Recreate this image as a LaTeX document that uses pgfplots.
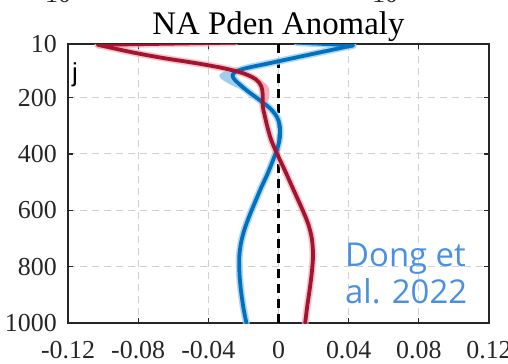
\documentclass[border=0pt]{standalone}
\usepackage{fontspec}
\setmainfont{Liberation Serif}
\newfontfamily\labelsans{Liberation Sans}
\newfontfamily\notefont{Open Sans}
\usepackage{pgfplots}
\usepackage{pgfplotstable}
\pgfplotsset{compat=1.18}

\definecolor{pblue}{RGB}{0,114,189}
\definecolor{pred}{RGB}{162,20,47}
\definecolor{hblue}{RGB}{160,205,240}
\definecolor{hred}{RGB}{244,172,182}
\definecolor{dongblue}{RGB}{74,144,226}
\definecolor{gridgray}{RGB}{208,208,208}
\definecolor{axgray}{RGB}{38,38,38}

% density anomaly profiles (anomaly, depth in m)
\pgfplotstableread{
x d
-0.0248 5
-0.1029 13
}\redtop
\pgfplotstableread{
x d
-0.1029 13
-0.0830 40
-0.0655 60
-0.0470 78
-0.0320 95
-0.0205 113
-0.0130 135
-0.0098 160
-0.0090 190
-0.0090 230
-0.0080 260
-0.0065 300
-0.0042 350
-0.0008 400
0.0030 450
0.0066 500
0.0102 550
0.0138 600
0.0170 650
0.0190 700
0.0197 760
0.0190 820
0.0178 880
0.0164 940
0.0152 1000
}\redprof
\pgfplotstableread{
x d
0.0105 5
0.0425 15
}\bluetop
\pgfplotstableread{
x d
0.0425 15
0.0234 40
0.0084 60
-0.0066 80
-0.0180 95
-0.0245 108
-0.0262 122
-0.0252 135
-0.0228 150
-0.0170 180
-0.0105 210
-0.0045 240
-0.0008 270
0.0007 300
0.0008 340
-0.0006 380
-0.0030 420
-0.0062 470
-0.0099 520
-0.0133 570
-0.0166 620
-0.0195 670
-0.0215 720
-0.0224 770
-0.0222 830
-0.0213 890
-0.0199 950
-0.0183 1000
}\blueprof
% spread bands
\pgfplotstableread{
x d
0.000 75
-0.016 93
-0.029 104
-0.0335 117
-0.033 132
-0.028 152
-0.021 172
-0.015 190
-0.0165 178
-0.022 158
-0.025 140
-0.026 122
-0.024 107
-0.016 93
-0.004 83
}\blueband
\pgfplotstableread{
x d
-0.0205 113
-0.0110 135
-0.0060 160
-0.0052 190
-0.0065 220
-0.0090 235
-0.0090 190
-0.0098 160
-0.0130 135
}\redband

\begin{document}
\begin{tikzpicture}
\path[use as bounding box] (-68bp,-41bp) rectangle (440bp,323bp);
\begin{axis}[
  at={(0,0)}, anchor=south west,
  scale only axis, width=421bp, height=279bp,
  xmin=-0.12, xmax=0.12, ymin=10, ymax=1000, y dir=reverse,
  xtick={-0.12,-0.08,-0.04,0,0.04,0.08,0.12},
  xticklabels={-0.12,-0.08,-0.04,0,0.04,0.08,0.12},
  ytick={10,200,400,600,800,1000},
  yticklabels={10,200,400,600,800,1000},
  /pgf/number format/assume math mode=true,
  tick align=inside, tick pos=both, major tick length=5bp,
  grid=major,
  major grid style={gridgray, line width=1bp, dash pattern=on 7bp off 5bp},
  axis line style={axgray, line width=1.3bp},
  every tick/.style={axgray, line width=1.2bp},
  ticklabel style={font=\fontsize{26}{26}\selectfont, text=axgray},
  xticklabel style={anchor=base, yshift=-35bp},
  yticklabel style={anchor=east, inner sep=0pt, xshift=-11bp},
  clip=true,
]
% zero reference line
\addplot[black, line width=2.6bp, dash pattern=on 9bp off 6bp] coordinates {(0,10) (0,1000)};

% spread
\addplot[fill=hblue, draw=none, smooth] table[x=x,y=d] {\blueband};
\addplot[hblue, line width=7bp, line cap=round, line join=round, opacity=0.8] table[x=x,y=d] {\bluetop};
\addplot[hblue, line width=7bp, smooth, line cap=round, line join=round, opacity=0.8] table[x=x,y=d] {\blueprof};
\addplot[fill=hred, draw=none, smooth] table[x=x,y=d] {\redband};
\addplot[hred, line width=7bp, line cap=round, line join=round, opacity=0.7] table[x=x,y=d] {\redtop};
\addplot[hred, line width=7bp, smooth, line cap=round, line join=round, opacity=0.7] table[x=x,y=d] {\redprof};

% mean profiles
\addplot[pblue, line width=3.8bp, line cap=round, line join=round] table[x=x,y=d] {\bluetop};
\addplot[pblue, line width=3.8bp, smooth, line cap=round, line join=round] table[x=x,y=d] {\blueprof};
\addplot[pred, line width=3.8bp, line cap=round, line join=round] table[x=x,y=d] {\redtop};
\addplot[pred, line width=3.8bp, smooth, line cap=round, line join=round] table[x=x,y=d] {\redprof};
\end{axis}

\node[anchor=base, inner sep=0pt, font=\fontsize{33}{33}\selectfont] at (210.5bp,288bp) {NA Pden Anomaly};
\node[anchor=base west, inner sep=0pt, font=\labelsans\fontsize{26}{26}\selectfont] at (4bp,241bp) {j};
\node[anchor=base west, inner sep=0pt, font=\notefont\fontsize{33}{33}\selectfont, text=dongblue] at (277bp,56bp) {Dong et};
\node[anchor=base west, inner sep=0pt, font=\notefont\fontsize{33}{33}\selectfont, text=dongblue] at (277bp,20bp) {al. 2022};
\node[anchor=base west, inner sep=0pt, font=\fontsize{26}{26}\selectfont, text=axgray] at (-23bp,320.5bp) {10};
\node[anchor=base west, inner sep=0pt, font=\fontsize{26}{26}\selectfont, text=axgray] at (304bp,320.5bp) {10};
\end{tikzpicture}
\end{document}
